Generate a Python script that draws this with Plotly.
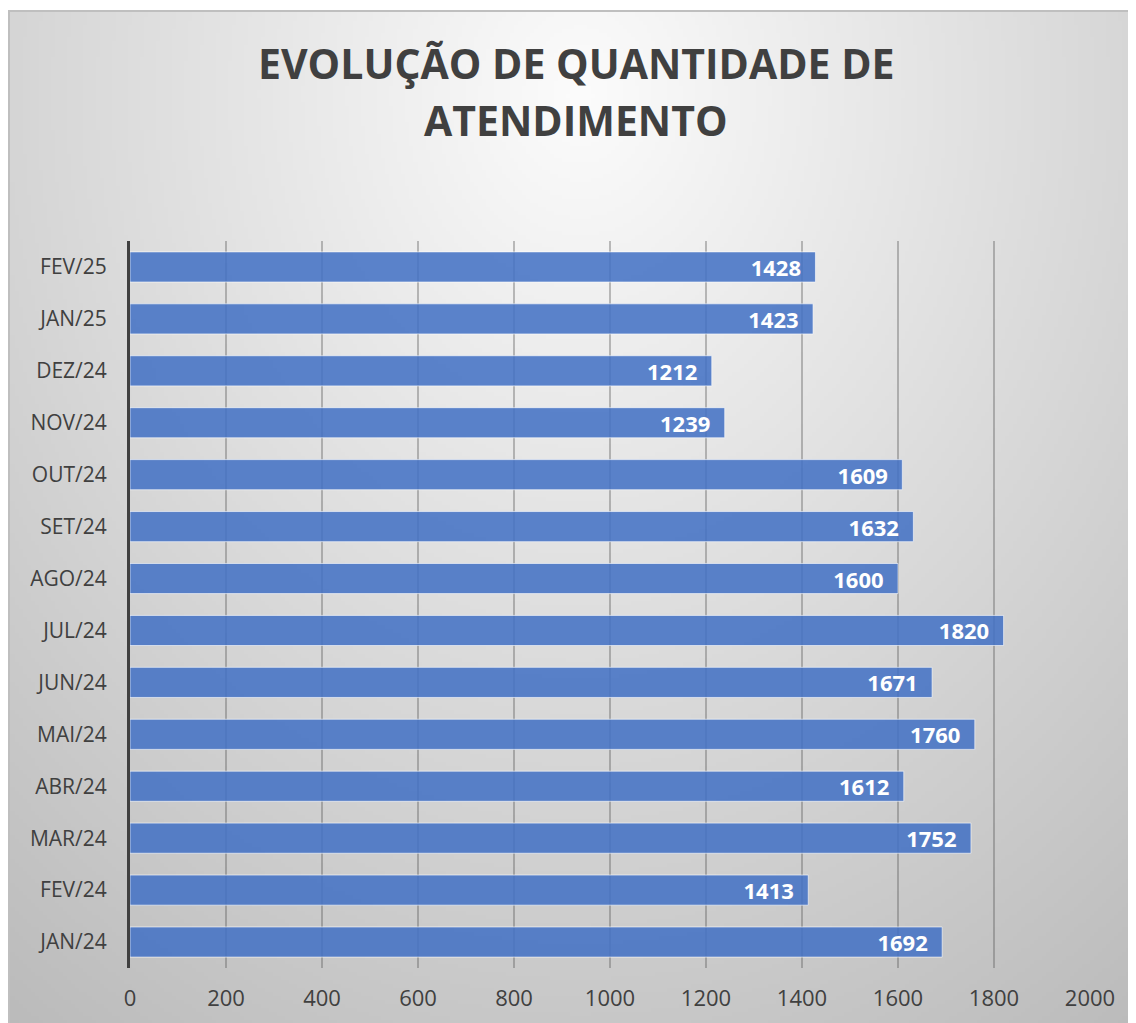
import base64, struct, zlib
import numpy as np
import plotly.graph_objects as go

# ---------------- data ----------------
categories = ["JAN/24", "FEV/24", "MAR/24", "ABR/24", "MAI/24", "JUN/24", "JUL/24",
              "AGO/24", "SET/24", "OUT/24", "NOV/24", "DEZ/24", "JAN/25", "FEV/25"]
values = [1692, 1413, 1752, 1612, 1760, 1671, 1820, 1600, 1632, 1609, 1239, 1212, 1423, 1428]
x_ticks = [0, 200, 400, 600, 800, 1000, 1200, 1400, 1600, 1800, 2000]
title_lines = ["EVOLUÇÃO DE QUANTIDADE DE", "ATENDIMENTO"]

# ---------------- background gradient image ----------------
def make_png(arr):
    h, w = arr.shape
    raw = b"".join(b"\x00" + bytes(np.repeat(arr[r], 3).astype(np.uint8)) for r in range(h))
    def chunk(t, d):
        c = struct.pack(">I", len(d)) + t + d
        return c + struct.pack(">I", zlib.crc32(t + d) & 0xffffffff)
    png = b"\x89PNG\r\n\x1a\n"
    png += chunk(b"IHDR", struct.pack(">IIBBBBB", w, h, 8, 2, 0, 0, 0))
    png += chunk(b"IDAT", zlib.compress(raw, 9))
    png += chunk(b"IEND", b"")
    return "data:image/png;base64," + base64.b64encode(png).decode()

W, H = 283, 255
yy, xx = np.mgrid[0:H, 0:W]
cx, cy = W * 0.5, H * 0.08
d = np.sqrt(((xx - cx) / (W * 0.75)) ** 2 + ((yy - cy) / (H * 1.0)) ** 2)
g = 252 - 58 * np.clip(d, 0, 1.2)
bg = make_png(np.clip(g, 0, 255))

# figure pixel geometry (page is offset by 8px body margin)
L, R, T, B = 122, 54, 233, 63
FW, FH = 1136, 1023
pw, ph = float(FW - L - R), float(FH - T - B)

def px(xf):
    return (xf - L) / pw

def py(yf):
    return 1 + (T - yf) / ph

fig = go.Figure()
fig.add_trace(go.Bar(
    y=categories, x=values, orientation="h",
    marker=dict(color="rgba(68,114,196,0.87)", line=dict(color="rgba(255,255,255,0.6)", width=1)),
    width=0.58,
    texttemplate="%{x}\u00a0\u00a0",
    textposition="inside", insidetextanchor="end",
    textfont=dict(family="Open Sans", size=22, color="white", weight="bold"),
    cliponaxis=False,
))

annots = []
for i, (line, yfig) in enumerate(zip(title_lines, [55, 112])):
    annots.append(dict(text=line, xref="paper", yref="paper", x=px(568), y=py(yfig),
                       xanchor="center", yanchor="middle", showarrow=False,
                       font=dict(family="Open Sans", size=41, color="#404040", weight="bold")))

fig.update_layout(
    width=FW, height=FH,
    margin=dict(l=L, r=R, t=T, b=B),
    paper_bgcolor="white", plot_bgcolor="rgba(0,0,0,0)",
    showlegend=False,
    uniformtext=dict(minsize=22, mode="show"),
    annotations=annots,
    xaxis=dict(range=[0, 2000], tickvals=x_ticks, showgrid=True,
               gridcolor="rgba(90,90,90,0.38)", gridwidth=1.5, zeroline=False,
               showline=False, ticks="", ticklabelstandoff=15,
               tickfont=dict(family="Open Sans", size=22, color="#404040")),
    yaxis=dict(showline=True, linecolor="#404040", linewidth=3, showgrid=False,
               ticks="", ticklabelstandoff=16,
               tickfont=dict(family="Open Sans", size=21, color="#404040")),
    images=[dict(source=bg, xref="paper", yref="paper",
                 x=px(1), y=py(3),
                 sizex=(1140 - 1) / pw, sizey=(1030 - 3) / ph,
                 sizing="stretch", xanchor="left", yanchor="top", layer="below")],
    shapes=[dict(type="rect", xref="paper", yref="paper",
                 x0=px(1), x1=px(1140),
                 y0=py(1030), y1=py(3),
                 line=dict(color="#bfbfbf", width=2), layer="below")],
)
fig.write_html("out.html")
